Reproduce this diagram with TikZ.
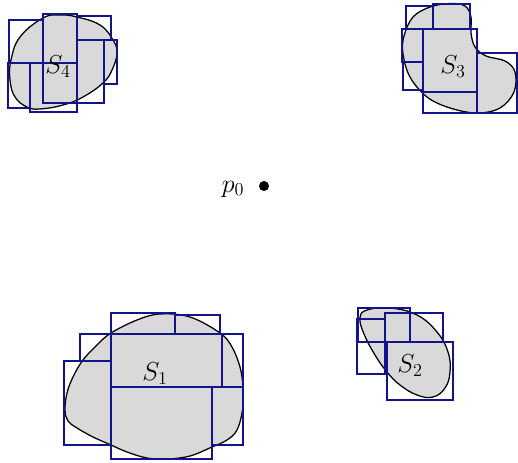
\documentclass[tikz,border=0pt]{standalone}
\usepackage{fix-cm}
\usepackage{amsmath,amssymb}
\usepackage{xcolor}
\usepackage{tikz}
\usetikzlibrary{positioning}
\definecolor{C_RECT}{HTML}{14148A}
\definecolor{C_FILL}{HTML}{D9D9D9}
\tikzset{
  %% -- region to be covered --
  SET/blob/.style={draw=black, fill=C_FILL, line width=0.9pt},
  %% -- covering rectangle --
  SET/cover/.style={draw=C_RECT, line width=1.4pt},
  %% -- set label --
  SET/lbl/.style={font=\fontsize{18.5}{22}\selectfont, inner sep=0pt},
}
\begin{document}
\begin{tikzpicture}[x=0.25mm, y=-0.25mm]
\useasboundingbox (0,0) rectangle (518,463);

%% ━━━━━━━━━━━━━━━━━━━━━━━━━━━━━━━━━━━━━━━━━━━━━━━━━━━━━━━━━━━━━━━━━━━━━
%%  S4 — top left
%% ━━━━━━━━━━━━━━━━━━━━━━━━━━━━━━━━━━━━━━━━━━━━━━━━━━━━━━━━━━━━━━━━━━━━━
\draw[SET/blob] plot[smooth cycle, tension=0.7] coordinates {
  (20,37) (43,18) (60,15) (77,17) (100,25) (113,40) (117,53) (112,70)
  (103,83) (83,97) (63,105) (40,109) (27,107) (15,97) (10,80) (11,60)};
\draw[SET/cover] (9,20) rectangle (43,63);
\draw[SET/cover] (8,63) rectangle (30,108);
\draw[SET/cover] (30,63) rectangle (77,112);
\draw[SET/cover] (43,14) rectangle (77,103);
\draw[SET/cover] (77,16) rectangle (111,40);
\draw[SET/cover] (77,40) rectangle (104,103);
\draw[SET/cover] (104,40) rectangle (117,84);
\node[SET/lbl] (s4) at (58,67) {$S_4$};

%% ━━━━━━━━━━━━━━━━━━━━━━━━━━━━━━━━━━━━━━━━━━━━━━━━━━━━━━━━━━━━━━━━━━━━━
%%  S3 — top right
%% ━━━━━━━━━━━━━━━━━━━━━━━━━━━━━━━━━━━━━━━━━━━━━━━━━━━━━━━━━━━━━━━━━━━━━
\draw[SET/blob] plot[smooth cycle, tension=0.6] coordinates {
  (450,3.5) (465,6) (471,17) (471,33) (475,47) (486,56) (505,61)
  (515,72) (514,92) (500,108) (477,113) (450,108) (427,97) (410,77)
  (403,54) (404,36) (413,17) (430,7)};
\draw[SET/cover] (406,6) rectangle (433,29);
\draw[SET/cover] (433,4) rectangle (470,29);
\draw[SET/cover] (402,29) rectangle (423,62);
\draw[SET/cover] (403,62) rectangle (423,90);
\draw[SET/cover] (423,29) rectangle (477,92);
\draw[SET/cover] (423,92) rectangle (477,113);
\draw[SET/cover] (477,53) rectangle (517,113);
\node[SET/lbl] (s3) at (453,67) {$S_3$};

%% ━━━━━━━━━━━━━━━━━━━━━━━━━━━━━━━━━━━━━━━━━━━━━━━━━━━━━━━━━━━━━━━━━━━━━
%%  reference point
%% ━━━━━━━━━━━━━━━━━━━━━━━━━━━━━━━━━━━━━━━━━━━━━━━━━━━━━━━━━━━━━━━━━━━━━
\fill (264,186) circle (5);
\node[SET/lbl] (p0) at (233,189) {$p_0$};

%% ━━━━━━━━━━━━━━━━━━━━━━━━━━━━━━━━━━━━━━━━━━━━━━━━━━━━━━━━━━━━━━━━━━━━━
%%  S1 — bottom left
%% ━━━━━━━━━━━━━━━━━━━━━━━━━━━━━━━━━━━━━━━━━━━━━━━━━━━━━━━━━━━━━━━━━━━━━
\draw[SET/blob] plot[smooth cycle, tension=0.6] coordinates {
  (111,333) (137,320) (160,314) (190,317) (220,333) (232,347) (240,367)
  (243,387) (242.5,410) (237,430) (227,440) (212,447) (190,456)
  (167,459) (147,458) (127,452) (111,445) (93,437) (77,428) (68,421)
  (65,410) (67,393) (73,377) (83,360) (97,345)};
\draw[SET/cover] (111,313) rectangle (175,334);
\draw[SET/cover] (175,315) rectangle (220,334);
\draw[SET/cover] (80,334) rectangle (111,361);
\draw[SET/cover] (111,334) rectangle (222,387);
\draw[SET/cover] (222,334) rectangle (243,387);
\draw[SET/cover] (64,361) rectangle (111,445);
\draw[SET/cover] (111,387) rectangle (212,459);
\draw[SET/cover] (212,387) rectangle (243,445);
\node[SET/lbl] (s1) at (155,374) {$S_1$};

%% ━━━━━━━━━━━━━━━━━━━━━━━━━━━━━━━━━━━━━━━━━━━━━━━━━━━━━━━━━━━━━━━━━━━━━
%%  S2 — bottom right
%% ━━━━━━━━━━━━━━━━━━━━━━━━━━━━━━━━━━━━━━━━━━━━━━━━━━━━━━━━━━━━━━━━━━━━━
\draw[SET/blob] plot[smooth cycle, tension=0.7] coordinates {
  (360,318) (367,310) (390,308) (417,315) (437,332) (448,352) (450,372)
  (445,388) (433,397) (417,395) (400,385) (387,372) (375,355) (364,334)};
\draw[SET/cover] (358,308) rectangle (410,342);
\draw[SET/cover] (357,319) rectangle (385,374);
\draw[SET/cover] (385,313) rectangle (443,342);
\draw[SET/cover] (387,342) rectangle (453,400);
\node[SET/lbl] (s2) at (410,366) {$S_2$};

\end{tikzpicture}
\end{document}
